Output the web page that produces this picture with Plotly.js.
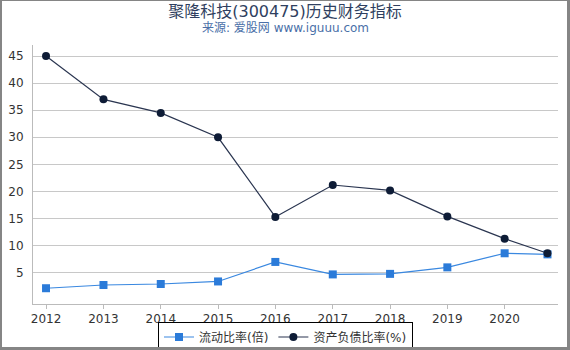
<!DOCTYPE html>
<html>
<head>
<meta charset="utf-8">
<script src="https://cdn.plot.ly/plotly-3.0.1.min.js"></script>
<style>
  html, body { margin: 0; padding: 0; background: #fff; }
  #wrap { position: relative; width: 570px; height: 350px; }
  #chart { width: 570px; height: 350px; }
  #frame { position: absolute; left: 0; top: 0; width: 570px; height: 350px; box-sizing: border-box;
           border-left: 2px solid #858585; border-top: 1px solid #858585;
           border-right: 3px solid #858585; border-bottom: 3px solid #858585; pointer-events: none; }
</style>
</head>
<body>
<div id="wrap"><div id="chart"></div><div id="frame"></div></div>
<script>
const dates = ['2012-01-01','2013-01-01','2014-01-01','2015-01-01','2016-01-01','2017-01-01','2018-01-01','2019-01-01','2020-01-01','2020-09-30'];
const currentRatio = [2.15, 2.75, 2.93, 3.4, 7.0, 4.7, 4.8, 6.0, 8.6, 8.4];
const debtRatio = [45.0, 37.0, 34.5, 30.0, 15.3, 21.2, 20.2, 15.4, 11.3, 8.6];
const seriesNames = ['流动比率(倍)', '资产负债比率(%)'];
const yTicks = [5, 10, 15, 20, 25, 30, 35, 40, 45];
const titleText = '聚隆科技(300475)历史财务指标';
const subtitleText = '来源: 爱股网 www.iguuu.com';

const font = 'DejaVu Sans, "Noto Sans CJK SC", sans-serif';

const traces = [
  { x: dates, y: currentRatio, name: seriesNames[0], type: 'scatter', mode: 'lines+markers',
    line: { color: '#3a88e0', width: 1.2 }, marker: { symbol: 'square', size: 8, color: '#2b7bd9' } },
  { x: dates, y: debtRatio, name: seriesNames[1], type: 'scatter', mode: 'lines+markers',
    line: { color: '#2a3550', width: 1.2 }, marker: { symbol: 'circle', size: 8, color: '#0e1c36' } }
];

const L = 33, R = 12, T = 45, B = 46, W = 570, H = 350;
const PW = W - L - R, PH = H - T - B;

const layout = {
  width: W, height: H,
  margin: { l: L, r: R, t: T, b: B },
  paper_bgcolor: '#fff', plot_bgcolor: '#fff',
  font: { family: font, size: 12, color: '#333' },
  title: { text: titleText, font: { family: font, size: 16, color: '#2f3f60' },
           x: 0.5, xref: 'container', xanchor: 'center', y: 1 - 11/H, yref: 'container', yanchor: 'middle' },
  annotations: [{ text: subtitleText, xref: 'paper', yref: 'paper', x: (285 - L) / PW, y: 1 + (T - 28) / PH,
                  xanchor: 'center', yanchor: 'middle', showarrow: false,
                  font: { family: font, size: 12, color: '#4a6fa8' } }],
  xaxis: { type: 'date', range: ['2011-10-10', '2020-12-06'], tick0: '2012-01-01', dtick: 'M12', tickformat: '%Y',
           showgrid: false, zeroline: false, showline: true, linecolor: '#bbb', linewidth: 1,
           ticks: 'outside', ticklen: 4, tickcolor: '#bbb', tickfont: { size: 12, color: '#333' } },
  yaxis: { range: [-0.76, 47.03], tickvals: yTicks, showgrid: true, gridcolor: '#c8c8c8', gridwidth: 1,
           zeroline: false, showline: true, linecolor: '#bbb', linewidth: 1, ticks: '', ticklabelstandoff: 6,
           tickfont: { size: 12, color: '#333' } },
  showlegend: true,
  legend: { orientation: 'h', xref: 'container', yref: 'container', x: 285.5 / W, xanchor: 'center',
            y: 1 - 337/H, yanchor: 'middle', bordercolor: '#000', borderwidth: 1, bgcolor: '#fff',
            font: { family: font, size: 12, color: '#333' }, itemwidth: 30, tracegroupgap: 0 }
};

Plotly.newPlot('chart', traces, layout, { staticPlot: true, displayModeBar: false });
</script>
</body>
</html>
